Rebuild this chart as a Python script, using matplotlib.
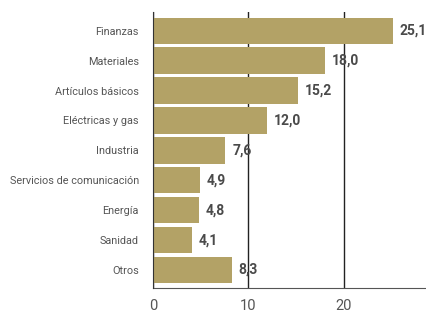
import matplotlib
matplotlib.use('Agg')
import matplotlib.pyplot as plt

sectors = ['Finanzas', 'Materiales', 'Artículos básicos', 'Eléctricas y gas',
           'Industria', 'Servicios de comunicación', 'Energía', 'Sanidad', 'Otros']
weights = [25.1, 18.0, 15.2, 12.0, 7.6, 4.9, 4.8, 4.1, 8.3]
xticks = [0, 10, 20]

plt.rcParams['font.family'] = ['Roboto', 'DejaVu Sans']

fig = plt.figure(figsize=(4.27, 3.13), dpi=100)
ax = fig.add_axes([0.358, 0.080, 0.642, 0.882])

pos = list(range(len(sectors)))
ax.barh(pos, weights, height=0.88, color='#b3a266', zorder=2)
for p, w in zip(pos, weights):
    ax.text(w + 0.7, p, f'{w:.1f}'.replace('.', ','), va='center', ha='left',
            fontsize=10, fontweight='semibold', color='#4a4a4a', zorder=3)

ax.set_xlim(0, 28.7)
ax.set_ylim(8.6, -0.63)
ax.set_yticks(pos)
ax.set_yticklabels(sectors, fontsize=7.8, color='#555555')
ax.set_xticks(xticks)
ax.set_xticklabels([str(t) for t in xticks], fontsize=10.5, color='#555555')
ax.tick_params(axis='y', length=0, pad=10)
ax.tick_params(axis='x', length=0, pad=8)
ax.grid(axis='x', color='#222222', linewidth=1, zorder=1)
ax.set_axisbelow(True)
for s in ['top', 'right']:
    ax.spines[s].set_visible(False)
ax.spines['left'].set_color('#333333')
ax.spines['bottom'].set_color('#555555')
ax.spines['left'].set_zorder(4)

fig.savefig('out.png', dpi=100)
